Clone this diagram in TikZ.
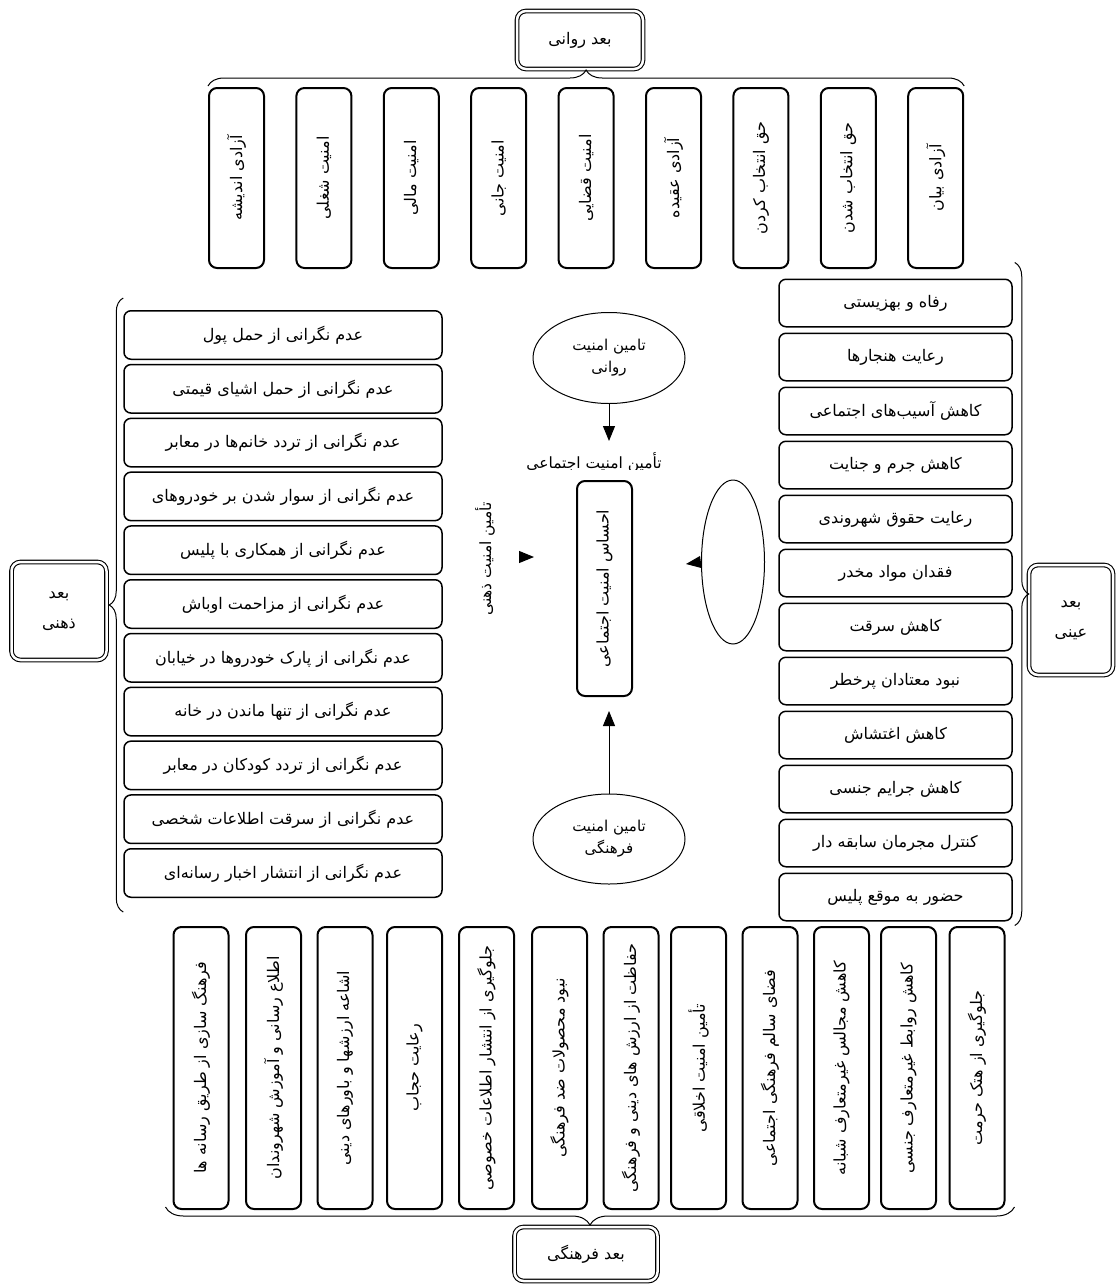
\documentclass[tikz,border=0pt]{standalone}
\usepackage{fontspec}
\usepackage{tikz}
\usetikzlibrary{shapes.geometric, arrows.meta, positioning, decorations.pathreplacing}
\newfontfamily\fafont[Script=Arabic]{DejaVu Sans}
\TeXXeTstate=1
\newcommand{\rl}[1]{\beginR#1\endR}
\tikzset{
  dimbox/.style={rectangle, draw=black, double, double distance=2.5pt,
    line width=1.1pt, rounded corners=9pt, align=center,
    font=\fafont\fontsize{16pt}{30pt}\selectfont},
  rowbox/.style={rectangle, draw=black, line width=1.5pt,
    rounded corners=7pt, inner sep=0pt,
    font=\fafont\fontsize{16pt}{19pt}\selectfont},
  colbox/.style={rectangle, draw=black, line width=2pt, rotate=90,
    rounded corners=8pt, minimum height=55pt, inner sep=0pt,
    font=\fafont\fontsize{16pt}{19pt}\selectfont},
  oval/.style={ellipse, draw=black, line width=1pt, align=center,
    inner sep=0pt, font=\fafont\fontsize{15pt}{22pt}\selectfont},
  label/.style={font=\fafont\fontsize{15.5pt}{18pt}\selectfont, inner sep=0pt},
  arrow/.style={-{Triangle[length=15pt, width=12pt]}, line width=1pt},
  curly/.style={decorate, decoration={brace, amplitude=#1}, line width=1pt}
}

\begin{document}
\begin{tikzpicture}[x=1pt, y=-1pt]
  \useasboundingbox (0,0) rectangle (1117,1285);

  % Dimensions
  \node[dimbox, minimum width=126pt, minimum height=58pt] (psy) at (580,40) {\rl{بعد روانی}};
  \node[dimbox, minimum width=95pt, minimum height=98pt] (mind) at (59,611) {\rl{بعد}\\\rl{ذهنی}};
  \node[dimbox, minimum width=84pt, minimum height=110pt] (obj) at (1071,620) {\rl{بعد}\\\rl{عینی}};
  \node[dimbox, minimum width=143pt, minimum height=54pt] (cult) at (586,1254) {\rl{بعد فرهنگی}};

  % Top row
  \node[colbox, minimum width=180pt] (t1) at (236.5,178) {\rl{آزادی اندیشه}};
  \node[colbox, minimum width=180pt] (t2) at (323.9,178) {\rl{امنیت شغلی}};
  \node[colbox, minimum width=180pt] (t3) at (411.3,178) {\rl{امنیت مالی}};
  \node[colbox, minimum width=180pt] (t4) at (498.7,178) {\rl{امنیت جانی}};
  \node[colbox, minimum width=180pt] (t5) at (586.1,178) {\rl{امنیت قضایی}};
  \node[colbox, minimum width=180pt] (t6) at (673.5,178) {\rl{آزادی عقیده}};
  \node[colbox, minimum width=180pt] (t7) at (760.9,178) {\rl{حق انتخاب کردن}};
  \node[colbox, minimum width=180pt] (t8) at (848.3,178) {\rl{حق انتخاب شدن}};
  \node[colbox, minimum width=180pt] (t9) at (935.7,178) {\rl{آزادی بیان}};

  % Left column
  \node[rowbox, minimum width=318pt, minimum height=48.5pt] (l1) at (283,335) {\rl{عدم نگرانی از حمل پول}};
  \node[rowbox, minimum width=318pt, minimum height=48.5pt, below=3.8pt of l1] (l2) {\rl{عدم نگرانی از حمل اشیای قیمتی}};
  \node[rowbox, minimum width=318pt, minimum height=48.5pt, below=3.8pt of l2] (l3) {\rl{عدم نگرانی از تردد خانم‌ها در معابر}};
  \node[rowbox, minimum width=318pt, minimum height=48.5pt, below=3.8pt of l3] (l4) {\rl{عدم نگرانی از سوار شدن بر خودروهای}};
  \node[rowbox, minimum width=318pt, minimum height=48.5pt, below=3.8pt of l4] (l5) {\rl{عدم نگرانی از همکاری با پلیس}};
  \node[rowbox, minimum width=318pt, minimum height=48.5pt, below=3.8pt of l5] (l6) {\rl{عدم نگرانی از مزاحمت اوباش}};
  \node[rowbox, minimum width=318pt, minimum height=48.5pt, below=3.8pt of l6] (l7) {\rl{عدم نگرانی از پارک خودروها در خیابان}};
  \node[rowbox, minimum width=318pt, minimum height=48.5pt, below=3.8pt of l7] (l8) {\rl{عدم نگرانی از تنها ماندن در خانه}};
  \node[rowbox, minimum width=318pt, minimum height=48.5pt, below=3.8pt of l8] (l9) {\rl{عدم نگرانی از تردد کودکان در معابر}};
  \node[rowbox, minimum width=318pt, minimum height=48.5pt, below=3.8pt of l9] (l10) {\rl{عدم نگرانی از سرقت اطلاعات شخصی}};
  \node[rowbox, minimum width=318pt, minimum height=48.5pt, below=3.8pt of l10] (l11) {\rl{عدم نگرانی از انتشار اخبار رسانه‌ای}};

  % Right column
  \node[rowbox, minimum width=233pt, minimum height=47.5pt] (r1) at (895.5,303) {\rl{رفاه و بهزیستی}};
  \node[rowbox, minimum width=233pt, minimum height=47.5pt, below=5pt of r1] (r2) {\rl{رعایت هنجارها}};
  \node[rowbox, minimum width=233pt, minimum height=47.5pt, below=5pt of r2] (r3) {\rl{کاهش آسیب‌های اجتماعی}};
  \node[rowbox, minimum width=233pt, minimum height=47.5pt, below=5pt of r3] (r4) {\rl{کاهش جرم و جنایت}};
  \node[rowbox, minimum width=233pt, minimum height=47.5pt, below=5pt of r4] (r5) {\rl{رعایت حقوق شهروندی}};
  \node[rowbox, minimum width=233pt, minimum height=47.5pt, below=5pt of r5] (r6) {\rl{فقدان مواد مخدر}};
  \node[rowbox, minimum width=233pt, minimum height=47.5pt, below=5pt of r6] (r7) {\rl{کاهش سرقت}};
  \node[rowbox, minimum width=233pt, minimum height=47.5pt, below=5pt of r7] (r8) {\rl{نبود معتادان پرخطر}};
  \node[rowbox, minimum width=233pt, minimum height=47.5pt, below=5pt of r8] (r9) {\rl{کاهش اغتشاش}};
  \node[rowbox, minimum width=233pt, minimum height=47.5pt, below=5pt of r9] (r10) {\rl{کاهش جرایم جنسی}};
  \node[rowbox, minimum width=233pt, minimum height=47.5pt, below=5pt of r10] (r11) {\rl{کنترل مجرمان سابقه دار}};
  \node[rowbox, minimum width=233pt, minimum height=47.5pt, below=5pt of r11] (r12) {\rl{حضور به موقع پلیس}};

  % Bottom row
  \node[colbox, minimum width=282pt] (b1) at (201,1068) {\rl{فرهنگ سازی از طریق رسانه ها}};
  \node[colbox, minimum width=282pt] (b2) at (273.5,1068) {\rl{اطلاع رسانی و آموزش شهروندان}};
  \node[colbox, minimum width=282pt] (b3) at (345,1068) {\rl{اشاعه ارزشها و باورهای دینی}};
  \node[colbox, minimum width=282pt] (b4) at (414.5,1068) {\rl{رعایت حجاب}};
  \node[colbox, minimum width=282pt] (b5) at (486.5,1068) {\rl{جلوگیری از انتشار اطلاعات خصوصی}};
  \node[colbox, minimum width=282pt] (b6) at (559.5,1068) {\rl{نبود محصولات ضد فرهنگی}};
  \node[colbox, minimum width=282pt] (b7) at (631,1068) {\rl{حفاظت از ارزش های دینی و فرهنگی}};
  \node[colbox, minimum width=282pt] (b8) at (698.5,1068) {\rl{تأمین امنیت اخلاقی}};
  \node[colbox, minimum width=282pt] (b9) at (770,1068) {\rl{فضای سالم فرهنگی اجتماعی}};
  \node[colbox, minimum width=282pt] (b10) at (841.5,1068) {\rl{کاهش مجالس غیرمتعارف شبانه}};
  \node[colbox, minimum width=282pt] (b11) at (908.5,1068) {\rl{کاهش روابط غیرمتعارف جنسی}};
  \node[colbox, minimum width=282pt] (b12) at (977,1068) {\rl{جلوگیری از هتک حرمت}};

  % Centre
  \node[colbox, minimum width=215pt] (feel) at (604.5,588.5) {\rl{احساس امنیت اجتماعی}};
  \node[oval, minimum width=152pt, minimum height=91pt] (psyOval) at (609,358) {\rl{تامین امنیت}\\\rl{روانی}};
  \node[oval, minimum width=152pt, minimum height=90pt] (cultOval) at (609,839) {\rl{تامین امنیت}\\\rl{فرهنگی}};
  \node[oval, minimum width=63pt, minimum height=164pt] (objOval) at (733,562) {};
  \node[label, rotate=90] (mindLbl) at (485,559) {\rl{تأمین امنیت ذهنی}};
  \begin{scope}
    \clip (500,440) rectangle (700,469);
    \node[label, anchor=base] (socLbl) at (594,468) {\rl{تأمین امنیت اجتماعی}};
  \end{scope}
  \coordinate (psyTip) at (609,441);
  \coordinate (cultTip) at (609,711);
  \coordinate (objTip) at (686,564);
  \coordinate (mindTail) at (519,557);
  \coordinate (mindTip) at (534,557);

  % Arrows
  \draw[arrow] (psyOval) -- (psyTip);
  \draw[arrow] (cultOval) -- (cultTip);
  \draw[arrow] (objOval.west) -- (objTip);
  \draw[arrow] (mindTail) -- (mindTip);

  % Braces
  \draw[curly=16pt] ([yshift=1pt]t1.north east) -- ([yshift=1pt]t9.south east);
  \draw[curly=14pt] ([yshift=-14pt]l11.south west) -- ([yshift=12pt]l1.north west);
  \draw[curly=14pt] ([xshift=2pt, yshift=16pt]r1.north east) -- ([xshift=2pt, yshift=-4pt]r12.south east);
  \draw[curly=18pt] ([xshift=9pt, yshift=3pt]b12.south west) -- ([xshift=-7pt, yshift=3pt]b1.north west);
\end{tikzpicture}
\end{document}
